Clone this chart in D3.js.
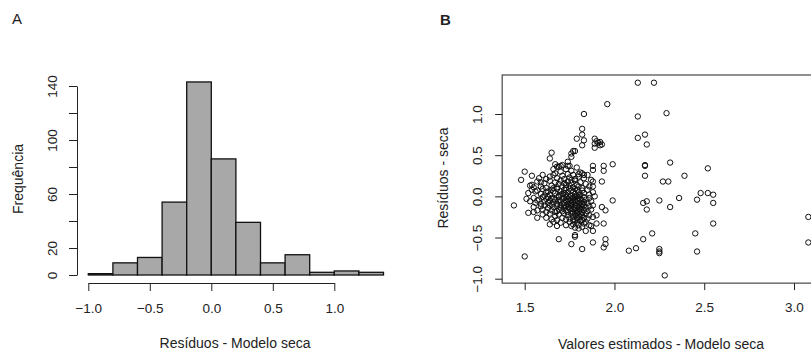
<!DOCTYPE html>
<html>
<head>
<meta charset="utf-8">
<script src="https://cdn.jsdelivr.net/npm/d3@7"></script>
<style>
  body { margin: 0; background: #fff; }
  svg text { font-family: "Liberation Sans", Arial, sans-serif; fill: #222; }
</style>
</head>
<body>
<svg id="chart" width="811" height="356"></svg>
<script>
// Panel A: histogram of residuals
const histBreaks = [-1.0, -0.8, -0.6, -0.4, -0.2, 0.0, 0.2, 0.4, 0.6, 0.8, 1.0, 1.2, 1.4]
const histCounts = [1, 9, 13, 54, 143, 86, 39, 9, 15, 2, 3, 2]
const histXTicks = [-1.0, -0.5, 0.0, 0.5, 1.0]
const histYTicks = [0, 20, 40, 60, 80, 100, 120, 140]
const histYLabels = [0, 20, 60, 100, 140]

// Panel B: residuals vs fitted values
const scatterXTicks = [1.5, 2.0, 2.5, 3.0]
const scatterYTicks = [-1.0, -0.5, 0.0, 0.5, 1.0]

// isolated points, read one by one
const outerPoints = [
  [2.13, 1.38], [2.22, 1.38], [1.96, 1.12], [1.83, 1.00], [2.13, 0.97], [2.29, 1.01],
  [1.82, 0.82], [1.79, 0.70], [1.82, 0.75], [1.83, 0.68], [1.82, 0.62], [1.89, 0.70],
  [1.89, 0.64], [1.91, 0.65], [1.92, 0.62], [1.89, 0.59], [1.90, 0.67], [1.93, 0.63],
  [1.92, 0.66], [2.13, 0.71], [2.17, 0.75], [2.18, 0.63], [2.17, 0.38], [2.17, 0.37],
  [2.17, 0.25], [2.31, 0.41], [2.39, 0.25], [2.27, 0.18], [2.30, 0.18], [2.52, 0.34],
  [1.99, 0.39], [2.48, 0.04], [2.52, 0.04], [2.55, 0.02], [2.46, -0.04], [2.55, -0.08],
  [2.55, -0.33], [2.36, -0.02], [2.25, -0.05], [2.31, -0.13], [2.16, -0.08], [2.18, -0.06],
  [2.18, -0.16], [1.99, -0.05], [2.21, -0.45], [2.16, -0.52], [2.12, -0.63], [2.08, -0.66],
  [2.25, -0.64], [2.25, -0.67], [2.25, -0.69], [2.28, -0.96], [2.45, -0.45], [2.46, -0.67],
  [3.08, -0.25], [3.08, -0.56], [1.44, -0.11], [1.50, -0.73], [1.50, 0.30], [1.48, 0.20],
  [1.54, 0.25], [1.52, -0.20], [1.55, -0.19], [1.57, -0.26], [1.51, -0.03], [1.69, -0.52],
  [1.78, -0.47], [1.78, -0.49], [1.76, -0.58], [1.82, -0.64], [1.88, -0.56], [1.94, -0.62],
  [1.95, -0.58], [1.95, -0.52], [1.94, -0.33], [1.95, -0.17], [1.93, -0.13], [1.90, -0.23],
  [1.90, -0.33], [1.88, -0.42], [1.84, -0.42], [1.87, -0.36], [1.93, 0.18], [1.94, 0.31],
  [1.94, 0.37], [1.88, 0.37], [1.88, 0.32], [1.88, 0.12], [1.89, 0.00], [1.80, 0.27],
  [1.82, 0.28], [1.83, 0.26], [1.65, 0.53], [1.64, 0.46], [1.67, 0.39], [1.68, 0.36],
  [1.74, 0.42], [1.76, 0.52], [1.77, 0.55], [1.78, 0.55], [1.76, 0.48], [1.74, 0.37],
  [1.70, 0.37], [1.60, 0.26], [1.59, 0.17], [1.53, 0.13], [1.54, 0.14], [1.56, 0.06]
]

// dense cloud, read band by band
const corePoints = [
  [1.62, 0.21], [1.64, 0.24], [1.66, 0.33], [1.67, 0.28], [1.68, 0.22], [1.69, 0.36], [1.70, 0.30],
  [1.71, 0.25], [1.72, 0.21], [1.73, 0.33], [1.74, 0.27], [1.75, 0.23], [1.76, 0.31], [1.77, 0.26],
  [1.78, 0.21], [1.79, 0.35], [1.80, 0.24], [1.81, 0.29], [1.83, 0.22], [1.85, 0.26], [1.87, 0.20],
  [1.58, 0.22], [1.71, 0.38], [1.75, 0.37], [1.66, 0.26],
  [1.55, 0.11], [1.57, 0.18], [1.59, 0.12], [1.61, 0.16], [1.62, 0.10], [1.64, 0.19], [1.65, 0.13],
  [1.67, 0.17], [1.68, 0.11], [1.69, 0.15], [1.70, 0.19], [1.71, 0.12], [1.72, 0.16], [1.73, 0.10],
  [1.74, 0.18], [1.75, 0.13], [1.76, 0.16], [1.77, 0.11], [1.78, 0.19], [1.79, 0.14], [1.80, 0.12],
  [1.81, 0.17], [1.82, 0.10], [1.84, 0.15], [1.86, 0.12], [1.88, 0.18], [1.73, 0.14], [1.76, 0.20],
  [1.66, 0.10],
  [1.52, 0.04], [1.54, 0.08], [1.57, 0.07], [1.59, 0.03], [1.60, 0.09], [1.61, 0.01], [1.63, 0.06],
  [1.64, 0.02], [1.65, 0.08], [1.67, 0.04], [1.68, 0.09], [1.69, 0.01], [1.70, 0.06], [1.71, 0.03],
  [1.72, 0.08], [1.73, 0.02], [1.74, 0.05], [1.75, 0.09], [1.76, 0.01], [1.77, 0.06], [1.78, 0.03],
  [1.79, 0.08], [1.80, 0.05], [1.81, 0.02], [1.82, 0.07], [1.83, 0.04], [1.85, 0.08], [1.86, 0.02],
  [1.88, 0.05], [1.74, 0.00], [1.76, 0.07], [1.72, 0.04], [1.78, 0.09], [1.70, 0.02], [1.62, 0.05],
  [1.66, 0.06], [1.80, 0.01],
  [1.53, -0.06], [1.55, -0.02], [1.56, -0.08], [1.58, -0.04], [1.59, -0.09], [1.60, -0.01],
  [1.61, -0.06], [1.62, -0.03], [1.63, -0.08], [1.64, -0.05], [1.65, -0.02], [1.66, -0.07],
  [1.67, -0.04], [1.68, -0.09], [1.69, -0.01], [1.70, -0.06], [1.71, -0.03], [1.72, -0.08],
  [1.72, -0.02], [1.73, -0.05], [1.74, -0.09], [1.74, -0.03], [1.75, -0.06], [1.75, -0.01],
  [1.76, -0.08], [1.76, -0.04], [1.77, -0.02], [1.77, -0.07], [1.78, -0.05], [1.78, -0.01],
  [1.79, -0.09], [1.79, -0.04], [1.80, -0.06], [1.80, -0.02], [1.81, -0.08], [1.81, -0.03],
  [1.82, -0.05], [1.82, -0.09], [1.83, -0.01], [1.83, -0.07], [1.84, -0.04], [1.85, -0.08],
  [1.86, -0.02], [1.87, -0.06], [1.57, -0.05], [1.63, -0.01], [1.69, -0.05], [1.73, -0.01],
  [1.71, -0.09], [1.66, -0.03], [1.76, -0.10], [1.79, -0.00],
  [1.55, -0.13], [1.57, -0.17], [1.59, -0.12], [1.60, -0.16], [1.61, -0.11], [1.62, -0.19],
  [1.63, -0.14], [1.64, -0.11], [1.65, -0.17], [1.66, -0.13], [1.67, -0.19], [1.68, -0.12],
  [1.69, -0.16], [1.70, -0.11], [1.71, -0.18], [1.72, -0.14], [1.72, -0.11], [1.73, -0.17],
  [1.74, -0.13], [1.74, -0.19], [1.75, -0.10], [1.75, -0.15], [1.76, -0.18], [1.76, -0.12],
  [1.77, -0.16], [1.77, -0.20], [1.78, -0.11], [1.78, -0.14], [1.79, -0.18], [1.79, -0.12],
  [1.80, -0.15], [1.80, -0.19], [1.81, -0.11], [1.81, -0.16], [1.82, -0.13], [1.82, -0.20],
  [1.83, -0.17], [1.83, -0.11], [1.84, -0.14], [1.85, -0.18], [1.86, -0.12], [1.87, -0.16],
  [1.88, -0.11], [1.70, -0.14], [1.73, -0.12], [1.68, -0.18], [1.65, -0.10], [1.78, -0.17],
  [1.80, -0.12],
  [1.60, -0.22], [1.62, -0.26], [1.64, -0.21], [1.65, -0.28], [1.67, -0.24], [1.68, -0.29],
  [1.69, -0.22], [1.71, -0.26], [1.72, -0.21], [1.73, -0.28], [1.74, -0.23], [1.75, -0.27],
  [1.76, -0.21], [1.77, -0.25], [1.78, -0.29], [1.78, -0.22], [1.79, -0.26], [1.80, -0.23],
  [1.80, -0.28], [1.81, -0.21], [1.81, -0.25], [1.82, -0.29], [1.82, -0.23], [1.83, -0.26],
  [1.84, -0.21], [1.85, -0.27], [1.86, -0.23], [1.88, -0.25], [1.79, -0.20], [1.77, -0.29],
  [1.64, -0.34], [1.66, -0.31], [1.68, -0.36], [1.70, -0.32], [1.73, -0.35], [1.75, -0.31],
  [1.77, -0.34], [1.78, -0.38], [1.79, -0.32], [1.80, -0.35], [1.81, -0.30], [1.82, -0.37],
  [1.83, -0.33], [1.84, -0.31], [1.86, -0.35], [1.76, -0.36], [1.80, -0.39]
]

const svg = d3.select('#chart')
const ink = '#222'

// R-like axis: line spans first..last tick, no outer ticks
function styleAxis(g) {
  g.selectAll('path.domain').attr('stroke', ink).attr('stroke-width', 1)
  g.selectAll('.tick line').attr('stroke', ink).attr('stroke-width', 1)
  g.selectAll('text').style('font-size', '13.5px').attr('fill', ink)
}

// rotate left-axis labels like R's las=0
function rotateYLabels(g, offset) {
  g.selectAll('.tick text')
    .attr('transform', 'rotate(-90)')
    .attr('x', 0)
    .attr('y', -offset)
    .attr('dy', null)
    .attr('text-anchor', 'middle')
}

// ---------- panel A ----------
const xA = d3.scaleLinear().domain([-1, 1]).range([88.3, 334.3])
const yA = d3.scaleLinear().domain([0, 140]).range([275, 86])

const bins = histCounts.map((c, i) => ({ x0: histBreaks[i], x1: histBreaks[i + 1], n: c }))

svg.append('g')
  .selectAll('rect')
  .data(bins)
  .join('rect')
  .attr('x', d => xA(d.x0))
  .attr('y', d => yA(d.n))
  .attr('width', d => xA(d.x1) - xA(d.x0))
  .attr('height', d => yA(0) - yA(d.n))
  .attr('fill', '#a8a8a8')
  .attr('stroke', '#111')
  .attr('stroke-width', 1.3)

svg.append('g')
  .attr('transform', 'translate(0,283)')
  .call(d3.axisBottom(xA).tickValues(histXTicks).tickFormat(d3.format('.1f'))
    .tickSizeInner(8).tickSizeOuter(0).tickPadding(12))
  .call(styleAxis)

svg.append('g')
  .attr('transform', 'translate(77,0)')
  .call(d3.axisLeft(yA).tickValues(histYTicks)
    .tickFormat(d => histYLabels.includes(d) ? d : '')
    .tickSizeInner(8).tickSizeOuter(0))
  .call(styleAxis)
  .call(g => rotateYLabels(g, 20))

svg.append('text')
  .attr('x', 235).attr('y', 348)
  .attr('text-anchor', 'middle')
  .style('font-size', '14px')
  .text('Resíduos - Modelo seca')

svg.append('text')
  .attr('transform', 'translate(23,179) rotate(-90)')
  .attr('text-anchor', 'middle')
  .style('font-size', '14px')
  .text('Frequência')

svg.append('text')
  .attr('x', 12).attr('y', 24)
  .style('font-size', '15px')
  .text('A')

// ---------- panel B ----------
const allPoints = outerPoints.concat(corePoints)
const xB = d3.scaleLinear().domain([1.5, 3.0]).range([524.7, 794])
const yB = d3.scaleLinear().domain([-1, 1]).range([278.7, 114])

// box limits as in R: data range widened by 4%
const pad = ([a, b]) => [a - (b - a) * 0.04, b + (b - a) * 0.04]
const xLim = pad(d3.extent(allPoints, d => d[0]))
const yLim = pad(d3.extent(allPoints, d => d[1]))

svg.append('rect')
  .attr('x', xB(xLim[0]))
  .attr('y', yB(yLim[1]))
  .attr('width', xB(xLim[1]) - xB(xLim[0]))
  .attr('height', yB(yLim[0]) - yB(yLim[1]))
  .attr('fill', 'none')
  .attr('stroke', ink)
  .attr('stroke-width', 1)

svg.append('g')
  .selectAll('circle')
  .data(allPoints)
  .join('circle')
  .attr('cx', d => xB(d[0]))
  .attr('cy', d => yB(d[1]))
  .attr('r', 2.7)
  .attr('fill', 'none')
  .attr('stroke', '#111')
  .attr('stroke-width', 1)

svg.append('g')
  .attr('transform', `translate(0,${yB(yLim[0])})`)
  .call(d3.axisBottom(xB).tickValues(scatterXTicks).tickFormat(d3.format('.1f'))
    .tickSizeInner(7).tickSizeOuter(0).tickPadding(12))
  .call(styleAxis)
  .call(g => g.select('path.domain').remove())

svg.append('g')
  .attr('transform', `translate(${xB(xLim[0])},0)`)
  .call(d3.axisLeft(yB).tickValues(scatterYTicks).tickFormat(d3.format('.1f'))
    .tickSizeInner(7).tickSizeOuter(0))
  .call(styleAxis)
  .call(g => g.select('path.domain').remove())
  .call(g => rotateYLabels(g, 20))

svg.append('text')
  .attr('x', 661).attr('y', 349)
  .attr('text-anchor', 'middle')
  .style('font-size', '14px')
  .text('Valores estimados - Modelo seca')

svg.append('text')
  .attr('transform', 'translate(448,178) rotate(-90)')
  .attr('text-anchor', 'middle')
  .style('font-size', '14px')
  .text('Resíduos - seca')

svg.append('text')
  .attr('x', 440).attr('y', 25)
  .style('font-size', '15px')
  .style('font-weight', 'bold')
  .text('B')
</script>
</body>
</html>
